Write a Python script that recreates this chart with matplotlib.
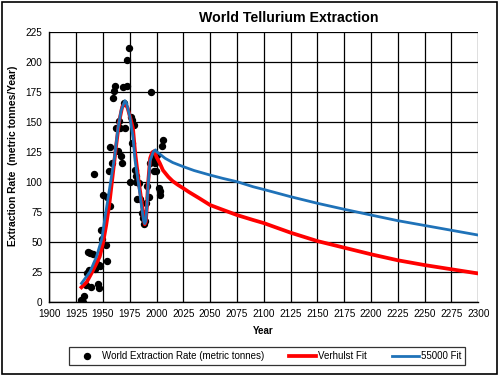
import numpy as np
import matplotlib
matplotlib.use('Agg')
import matplotlib.pyplot as plt
from matplotlib.patches import Rectangle

plt.rcParams['font.family'] = ['Liberation Sans', 'DejaVu Sans']

# observed yearly extraction (metric tonnes)
obs_year = [1930, 1931, 1932, 1934, 1935, 1936, 1937, 1938, 1938.5, 1941, 1941.5,
            1943, 1944, 1945, 1946, 1946.3, 1947, 1948, 1949.5, 1950, 1953, 1953.5,
            1954, 1956, 1956.5, 1957, 1958.5, 1959.5, 1960, 1961, 1962.5, 1964, 1965,
            1966, 1967, 1968, 1969, 1970, 1971, 1972, 1972.5, 1974, 1975, 1976, 1977,
            1977.5, 1979, 1980, 1980.5, 1981, 1982, 1984, 1985, 1986, 1987.5, 1988.5,
            1989.5, 1990.5, 1991.5, 1993, 1993.5, 1994.5, 1997, 1997.5, 1998.5, 1999.5,
            2000.5, 2002.5, 2003, 2003.5, 2005, 2006]
obs_val = [2, 0.5, 5, 14, 24, 42, 27, 41, 13, 40, 107,
           28, 33, 15, 12, 31, 30, 60, 53, 89, 48, 34,
           88, 109, 129, 80, 116, 170, 176, 180, 145, 126, 151,
           145, 122, 116, 179, 166, 145, 180, 202, 212, 100, 154, 133,
           152, 148, 110, 105, 100, 86, 99, 86, 74, 70, 65,
           68, 83, 97, 88, 116, 175, 121, 109, 116, 109,
           123, 95, 89, 93, 130, 135]

# Verhulst fit
red_year = [1930, 1935, 1941, 1947, 1950, 1953, 1956, 1959, 1962, 1965, 1968, 1970.5,
            1973, 1976, 1978, 1980, 1983, 1986, 1988, 1989, 1990, 1991, 1992, 1994,
            1996, 1998, 2000, 2003, 2006, 2011, 2015, 2020, 2025, 2030, 2040, 2050,
            2062, 2075, 2090, 2100, 2125, 2150, 2175, 2200, 2225, 2250, 2275, 2300]
red_val = [12.5, 17, 27, 38, 49, 64, 82, 105, 128, 150, 163, 166,
           162, 152, 145, 125, 103, 84, 70, 65, 67, 80, 98, 120,
           125, 126, 121, 116, 110, 104.5, 101, 97.8, 95, 92, 86.6, 81,
           77, 72.7, 68.6, 66, 58, 51, 45.5, 40, 35, 31, 27.5, 24]

# 55000 fit
blue_year = [1930, 1938, 1944, 1949, 1952, 1955, 1958, 1961, 1964, 1967, 1970.5, 1972,
             1975, 1978, 1980, 1983, 1986, 1988, 1989, 1990, 1991, 1992, 1994, 1997,
             1999, 2000, 2003, 2008, 2015, 2025, 2035, 2050, 2062, 2075, 2090, 2100,
             2125, 2150, 2175, 2200, 2225, 2250, 2275, 2300]
blue_val = [15.8, 25.5, 38, 53, 71, 88, 105, 122, 145, 160, 168, 166,
            155, 138, 118, 100, 80, 68, 65.5, 68, 80, 96, 118, 125.5,
            127, 125.5, 123.5, 120, 116.5, 113, 109.8, 106, 103.2, 100.5, 96.3, 94,
            88, 82.5, 77.5, 72.7, 68, 64, 60, 56]

fig = plt.figure(figsize=(5, 3.75), dpi=100)
fig.set_facecolor('w')
ax = fig.add_axes([0.0986, 0.1939, 0.858, 0.72])

ax.plot(obs_year, obs_val, 'o', color='k', markersize=4.3, zorder=3,
        label='World Extraction Rate (metric tonnes)')
ax.plot(red_year, red_val, color='#ff0000', lw=2.7, zorder=4, label='Verhulst Fit')
ax.plot(blue_year, blue_val, color='#1f72b8', lw=2.0, zorder=5, label='55000 Fit')

ax.set_xlim(1900, 2300)
ax.set_ylim(0, 225)
ax.set_xticks(np.arange(1900, 2301, 25))
ax.set_yticks(np.arange(0, 226, 25))
ax.tick_params(length=0, labelsize=7.2, pad=5)
ax.grid(True, color='k', lw=0.9)
ax.set_axisbelow(True)
for s in ['top', 'right']:
    ax.spines[s].set_visible(False)
for s in ['left', 'bottom']:
    ax.spines[s].set_linewidth(1.0)

fig.text(0.578, 0.951, 'World Tellurium Extraction', ha='center', va='center',
         fontsize=10.2, fontweight='bold')
fig.text(0.527, 0.117, 'Year', ha='center', va='center', fontsize=7, fontweight='bold')
fig.text(0.026, 0.585, 'Extraction Rate  (metric tonnes/Year)', ha='center', va='center',
         rotation=90, fontsize=7.4, fontweight='bold')

leg = fig.legend(loc='center', bbox_to_anchor=(0.534, 0.0505), ncol=3, fontsize=7,
                 frameon=True, fancybox=False, handlelength=2.8, handletextpad=0.15,
                 columnspacing=2.6, borderaxespad=0, borderpad=0.45)
leg.get_frame().set_edgecolor('k')
leg.get_frame().set_linewidth(0.9)

fig.patches.append(Rectangle((0.003, 0.004), 0.991, 0.99, transform=fig.transFigure,
                             fill=False, edgecolor='k', lw=1.2))

plt.savefig('out.png', dpi=100)
